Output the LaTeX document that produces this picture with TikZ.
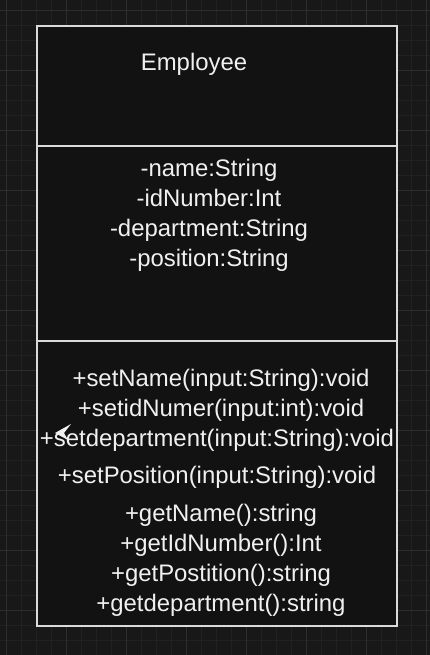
\documentclass[tikz,border=0pt]{standalone}
\usepackage{fontspec}
\setmainfont{Liberation Sans}
\usetikzlibrary{positioning}

\definecolor{canvasbg}{RGB}{24,24,24}
\definecolor{minorgrid}{RGB}{33,33,33}
\definecolor{majorgrid}{RGB}{46,46,46}
\definecolor{classfill}{RGB}{18,18,18}
\definecolor{classline}{RGB}{218,218,218}
\definecolor{umltext}{RGB}{240,240,240}

\begin{document}
\begin{tikzpicture}[x=1pt, y=-1pt, node distance=30pt, on grid,
    member/.style={text=umltext, inner sep=0pt, text height=17pt, text depth=5pt,
        font=\fontsize{23.9}{28}\selectfont},
    classbox/.style={draw=classline, line width=1.3pt}]
    \fill[canvasbg] (0,0) rectangle (430,655);
    \useasboundingbox (0,0) rectangle (430,655);
    % grid of the canvas
    \begin{scope}[shift={(6,10)}]
        \draw[minorgrid, line width=0.7pt, step=15pt] (-6,-10) grid (424,645);
        \draw[majorgrid, line width=0.9pt, step=60pt] (-6,-10) grid (424,645);
    \end{scope}
    % class box
    \filldraw[classbox, fill=classfill] (37,26) rectangle (397,626);
    \draw[classbox] (37,146) -- (397,146);
    \draw[classbox] (37,341) -- (397,341);

    \node[member, anchor=base] (title) at (194,71) {Employee};

    \node[member, anchor=base] (a_name) at (209,176) {-name:String};
    \node[member] (a_id) [below=of a_name] {-idNumber:Int};
    \node[member] (a_dept) [below=of a_id] {-department:String};
    \node[member] (a_pos) [below=of a_dept] {-position:String};

    \node[member, anchor=base] (m_setname) at (221,386) {+setName(input:String):void};
    \node[member] (m_setid) [below=of m_setname] {+setidNumer(input:int):void};
    \node[member] (m_setdept) [below=of m_setid, xshift=-4pt] {+setdepartment(input:String):void};
    \node[member] (m_setpos) [below=37pt of m_setdept] {+setPosition(input:String):void};
    \node[member, anchor=base] (m_getname) at (221,521) {+getName():string};
    \node[member] (m_getid) [below=of m_getname] {+getIdNumber():Int};
    \node[member] (m_getpos) [below=of m_getid] {+getPostition():string};
    \node[member] (m_getdept) [below=of m_getpos] {+getdepartment():string};

    % pointer
    \fill[umltext] (55,433) -- (71,424) -- (64,433) -- (68,440) -- cycle;
\end{tikzpicture}
\end{document}
